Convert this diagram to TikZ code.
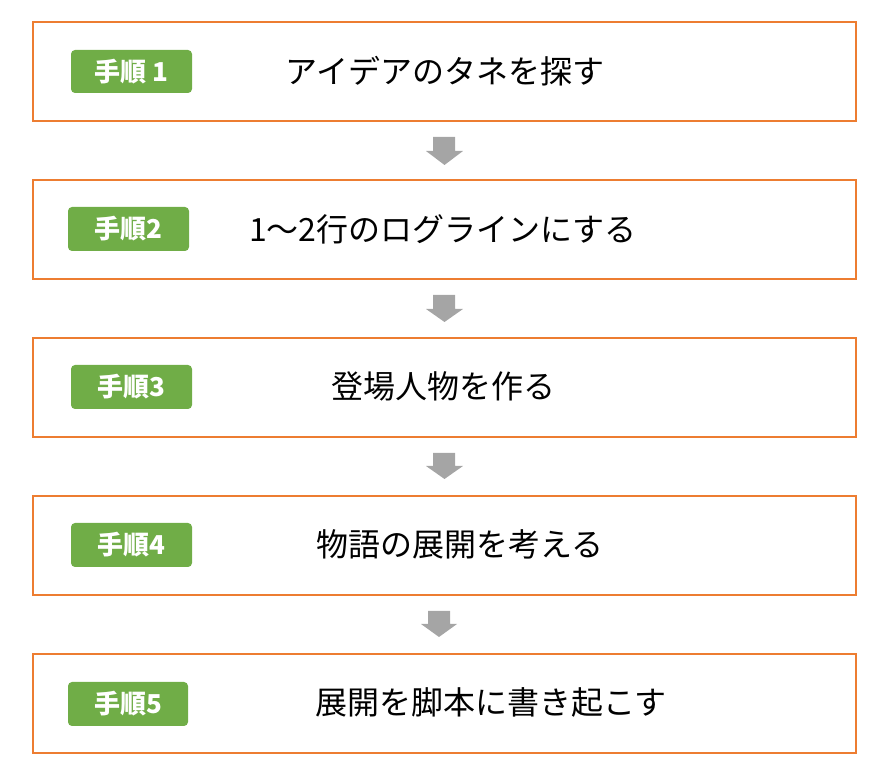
\documentclass[tikz,border=0pt]{standalone}
\usepackage{fontspec}
\setmainfont{Noto Sans CJK JP}
\definecolor{steporange}{RGB}{237,125,49}
\definecolor{stepgreen}{RGB}{112,173,71}
\definecolor{arrowgray}{RGB}{165,165,165}

\tikzset{every picture/.style={line width=1.5pt}}
\tikzset{
  stepbox/.style={draw=steporange},
  badge/.style={fill=stepgreen, rounded corners=3pt},
  badgetext/.style={inner sep=0.75pt, text=white, font=\fontsize{19.5}{22}\selectfont\bfseries},
  steptext/.style={inner sep=0.75pt, font=\fontsize{24}{28}\selectfont},
  downarrow/.style={fill=arrowgray, draw=none}
}

\begin{document}
\begin{tikzpicture}[x=0.75pt,y=0.75pt,yscale=-1,xscale=1]
    \useasboundingbox (0,0) rectangle (883,780);

    %Shape: Rectangle [step 1]
    \draw [stepbox] (33,22) rectangle (856,121) ;
    %Shape: Rectangle [step 2]
    \draw [stepbox] (33,180) rectangle (856,279) ;
    %Shape: Rectangle [step 3]
    \draw [stepbox] (33,338) rectangle (856,437) ;
    %Shape: Rectangle [step 4]
    \draw [stepbox] (33,496) rectangle (856,595) ;
    %Shape: Rectangle [step 5]
    \draw [stepbox] (33,654) rectangle (856,753) ;

    %Shape: Rounded Rectangle [badges]
    \fill [badge] (71,50) rectangle (192,93) ;
    \fill [badge] (68,207) rectangle (189,251) ;
    \fill [badge] (71,365) rectangle (192,409) ;
    \fill [badge] (71,523) rectangle (192,567) ;
    \fill [badge] (68,682) rectangle (188,726) ;

    %Shape: Down Arrow [between steps]
    \fill [downarrow] (433,137) -- (455,137) -- (455,151) -- (463,151) -- (444.5,165) -- (426,151) -- (433,151) -- cycle ;
    \fill [downarrow] (433,295) -- (455,295) -- (455,309) -- (463,309) -- (444.5,322) -- (426,309) -- (433,309) -- cycle ;
    \fill [downarrow] (433,453) -- (455,453) -- (455,466) -- (463,466) -- (444.5,479) -- (426,466) -- (433,466) -- cycle ;
    \fill [downarrow] (428,611) -- (450,611) -- (450,624) -- (457,624) -- (439,637) -- (421,624) -- (428,624) -- cycle ;

    % Text Node
    \node [badgetext] (num1) at (131.5,71.5) {手順 1};
    % Text Node
    \node [badgetext] (num2) at (128.5,229) {手順2};
    % Text Node
    \node [badgetext] (num3) at (131.5,387) {手順3};
    % Text Node
    \node [badgetext] (num4) at (131.5,545) {手順4};
    % Text Node
    \node [badgetext] (num5) at (128,704) {手順5};

    % Text Node
    \node [steptext] (task1) at (445,71) {アイデアのタネを探す};
    % Text Node
    \node [steptext] (task2) at (443,229) {1～2行のログラインにする};
    % Text Node
    \node [steptext] (task3) at (443.5,386) {登場人物を作る};
    % Text Node
    \node [steptext] (task4) at (460,544) {物語の展開を考える};
    % Text Node
    \node [steptext] (task5) at (491,702) {展開を脚本に書き起こす};

\end{tikzpicture}
\end{document}
